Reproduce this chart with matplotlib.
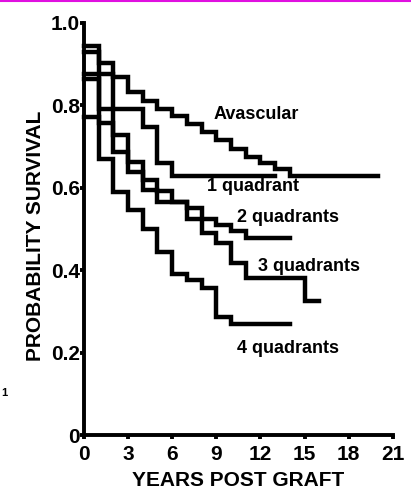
import matplotlib
matplotlib.use("Agg")
import matplotlib.pyplot as plt
from matplotlib.lines import Line2D

plt.rcParams['font.family'] = ['Liberation Sans', 'DejaVu Sans']
plt.rcParams['font.weight'] = 'bold'

# Kaplan-Meier style step curves (years, survival)
avascular_t = [0, 1, 2, 3, 4, 5, 6, 7, 8, 9, 10, 11, 12, 13, 14, 20]
avascular_s = [0.945, 0.903, 0.869, 0.833, 0.81, 0.79, 0.775, 0.755, 0.735,
               0.715, 0.695, 0.675, 0.66, 0.645, 0.629, 0.629]

quad1_t = [0, 1, 4, 5, 6, 13]
quad1_s = [0.93, 0.79, 0.748, 0.66, 0.629, 0.629]

quad2_t = [0, 2, 3, 4, 5, 6, 7, 9, 10, 11, 14]
quad2_s = [0.875, 0.728, 0.663, 0.62, 0.592, 0.565, 0.525, 0.51, 0.495, 0.478, 0.478]

quad3_t = [0, 1, 2, 3, 4, 5, 7, 8, 9, 10, 11, 15, 16]
quad3_s = [0.865, 0.757, 0.687, 0.638, 0.595, 0.565, 0.55, 0.49, 0.466,
           0.417, 0.38, 0.325, 0.325]

quad4_t = [0, 1, 2, 3, 4, 5, 6, 7, 8, 9, 10, 14]
quad4_s = [0.772, 0.67, 0.59, 0.545, 0.50, 0.445, 0.39, 0.376, 0.357, 0.287, 0.27, 0.27]

curve_labels = ["Avascular", "1 quadrant", "2 quadrants", "3 quadrants", "4 quadrants"]
label_pos = [(8.8, 0.777), (8.4, 0.604), (10.4, 0.529), (11.85, 0.41), (10.4, 0.211)]

x_ticks = [0, 3, 6, 9, 12, 15, 18, 21]
y_ticks = [0, 0.2, 0.4, 0.6, 0.8, 1.0]
y_tick_labels = ["0", "0.2", "0.4", "0.6", "0.8", "1.0"]

fig = plt.figure(figsize=(4.11, 4.98), dpi=100)
ax = fig.add_axes([0.204, 0.1265, 0.752, 0.8275])

curves = [(avascular_t, avascular_s), (quad1_t, quad1_s), (quad2_t, quad2_s),
          (quad3_t, quad3_s), (quad4_t, quad4_s)]
for t, s in curves:
    ax.plot(t, s, drawstyle='steps-post', color='black', lw=3.2,
            solid_joinstyle='miter', clip_on=False)

for text, (x, y) in zip(curve_labels, label_pos):
    ax.text(x, y, text, ha='left', va='center', fontsize=13, fontweight='bold')

ax.set_xlim(0, 21)
ax.set_ylim(0, 1.0)
ax.set_xticks(x_ticks)
ax.set_yticks(y_ticks)
ax.set_yticklabels(y_tick_labels)
ax.spines['top'].set_visible(False)
ax.spines['right'].set_visible(False)
for sp in ['left', 'bottom']:
    ax.spines[sp].set_linewidth(2.8)
ax.tick_params(direction='out', length=3, width=2.8, labelsize=15)
ax.tick_params(axis='x', pad=4)
ax.tick_params(axis='y', pad=0)
ax.set_xlabel("YEARS POST GRAFT", fontsize=15, fontweight='bold')
ax.set_ylabel("PROBABILITY SURVIVAL", fontsize=15, fontweight='bold')
ax.xaxis.set_label_coords(0.5, -0.088)
ax.yaxis.set_label_coords(-0.125, 0.483)

# magenta frame line at the top edge and a stray mark at the left
fig.add_artist(Line2D([0, 1], [0.997, 0.997], color='#e010e0', lw=1.5))
fig.text(0.002, 1 - 393 / 498, "1", fontsize=8, va='center')

fig.savefig("out.png", dpi=100)
